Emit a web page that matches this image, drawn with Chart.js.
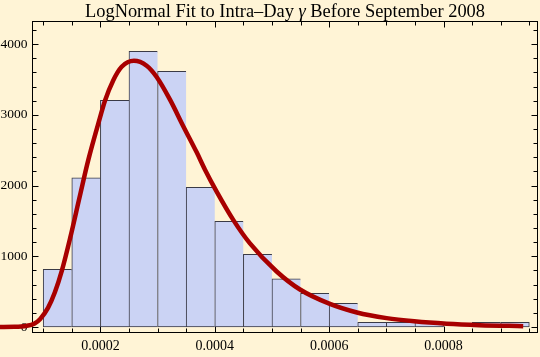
<!DOCTYPE html>
<html><head><meta charset="utf-8">
<script src="https://cdn.jsdelivr.net/npm/chart.js@4.4.1/dist/chart.umd.min.js"></script>
<style>html,body{margin:0;padding:0;background:#FFF4D6;}#wrap{width:540px;height:357px;}</style>
</head><body><div id="wrap"><canvas id="c" width="540" height="357"></canvas></div>
<script>
// ---- data ----
const titleParts = ["LogNormal Fit to Intra\u2013Day ", "\u03b3", " Before September 2008"];
const binCenters = [0.000125,0.000175,0.000225,0.000275,0.000325,0.000375,0.000425,0.000475,0.000525,0.000575,0.000625,0.000675,0.000725,0.000775,0.000825,0.000875,0.000925];
const binCounts  = [816,2110,3207,3900,3617,1976,1495,1028,680,477,335,66,66,66,0,66,66];
const curveX = [0.0000245,0.00005,0.00007,0.000085,0.0000944,0.0001084,0.0001206,0.0001329,0.0001469,0.0001643,0.0001788,0.0001993,0.000208,0.0002226,0.0002372,0.0002587,0.0002809,0.0002984,0.0003217,0.0003449,0.0003684,0.0003829,0.0004033,0.0004323,0.0004615,0.0005082,0.000549,0.0006002,0.0006486,0.0007005,0.0007488,0.0008054,0.0008636,0.0009393];
const curveY = [0,2,15,50,110,270,495,805,1250,1860,2360,2960,3200,3490,3680,3765,3695,3535,3215,2840,2470,2225,1915,1515,1182,785,530,330,205,125,80,46,26,12];
const xTickValues = [0.0002,0.0004,0.0006,0.0008];
const xTickLabels = ["0.0002","0.0004","0.0006","0.0008"];
const yTickValues = [0,1000,2000,3000,4000];
const yTickLabels = ["0","1000","2000","3000","4000"];
const X_MIN = 0.0000813, X_MAX = 0.0009643;

const SERIF = '"Liberation Serif", "DejaVu Serif", serif';

const framePlugin = {
  id: 'frame',
  beforeDatasetsDraw(chart) {
    const {ctx, chartArea: a, scales: {x, y}} = chart;
    ctx.save();
    ctx.strokeStyle = '#000';
    ctx.lineWidth = 1;
    ctx.strokeRect(a.left, a.top, a.right - a.left, a.bottom - a.top);
    ctx.beginPath();
    for (let k = 2; k <= 19; k++) {
      const v = k * 0.00005;
      const len = (k % 4 === 0) ? 6 : 4;
      const px = Math.round(x.getPixelForValue(v)) + 0.5;
      ctx.moveTo(px, a.bottom); ctx.lineTo(px, a.bottom - len);
      ctx.moveTo(px, a.top); ctx.lineTo(px, a.top + len);
    }
    for (let k = 0; k <= 21; k++) {
      const v = k * 200;
      const len = (k % 5 === 0) ? 6 : 4;
      const py = Math.round(y.getPixelForValue(v)) + 0.5;
      ctx.moveTo(a.left, py); ctx.lineTo(a.left + len, py);
      ctx.moveTo(a.right, py); ctx.lineTo(a.right - len, py);
    }
    ctx.stroke();
    ctx.restore();
  }
};

const titlePlugin = {
  id: 'richTitle',
  afterDraw(chart) {
    const {ctx, chartArea: a} = chart;
    ctx.save();
    const fonts = ['18.4px ' + SERIF, 'italic 18.4px ' + SERIF, '18.4px ' + SERIF];
    const widths = titleParts.map((t, i) => { ctx.font = fonts[i]; return ctx.measureText(t).width; });
    const total = widths.reduce((s, w) => s + w, 0);
    let xx = (a.left + a.right) / 2 - total / 2;
    ctx.fillStyle = '#000';
    ctx.textBaseline = 'alphabetic';
    ctx.textAlign = 'left';
    titleParts.forEach((t, i) => { ctx.font = fonts[i]; ctx.fillText(t, xx, 16.5); xx += widths[i]; });
    ctx.restore();
  }
};

const bw = (ctx) => {
  const i = ctx.dataIndex;
  if (i === undefined) return 1;
  const next = binCounts[i + 1];
  return {left: 1, top: 1, bottom: 1, right: (next === undefined || next === 0) ? 1 : 0};
};

new Chart(document.getElementById('c'), {
  type: 'bar',
  data: {
    datasets: [
      {
        type: 'line',
        data: curveX.map((v, i) => ({x: v, y: curveY[i]})),
        borderColor: '#A80000',
        borderWidth: 4.5,
        pointRadius: 0,
        cubicInterpolationMode: 'monotone',
        fill: false,
        clip: false,
        order: 0
      },
      {
        type: 'bar',
        data: binCenters.map((v, i) => ({x: v, y: binCounts[i]})),
        backgroundColor: '#CBD3F4',
        borderColor: '#3a3a46',
        borderWidth: bw,
        borderSkipped: false,
        barPercentage: 1,
        categoryPercentage: 1,
        order: 1
      }
    ]
  },
  options: {
    responsive: false,
    animation: false,
    devicePixelRatio: 1,
    layout: {padding: {top: 21.5, right: 2.5, left: 0, bottom: 0}},
    plugins: {legend: {display: false}, tooltip: {enabled: false}, title: {display: false}},
    scales: {
      x: {
        type: 'linear', bounds: 'data', offset: false,
        afterDataLimits: s => { s.min = X_MIN; s.max = X_MAX; },
        grid: {display: false, drawTicks: false},
        border: {display: false},
        afterBuildTicks: s => { s.ticks = xTickValues.map(v => ({value: v})); },
        ticks: {
          autoSkip: false, maxRotation: 0, padding: 5, color: '#000',
          font: {family: SERIF, size: 14},
          callback: (v, i) => xTickLabels[i]
        },
        afterFit: s => { s.height = 24.5; }
      },
      y: {
        type: 'linear', min: -78, max: 4321, z: 1,
        grid: {display: false, drawTicks: false},
        border: {display: false},
        afterBuildTicks: s => { s.ticks = yTickValues.map(v => ({value: v})); },
        ticks: {
          autoSkip: false, padding: 5, color: '#000',
          font: {family: SERIF, size: 13.5},
          callback: (v, i) => yTickLabels[i]
        },
        afterFit: s => { s.width = 32.5; }
      }
    }
  },
  plugins: [framePlugin, titlePlugin]
});
</script>
</body></html>
